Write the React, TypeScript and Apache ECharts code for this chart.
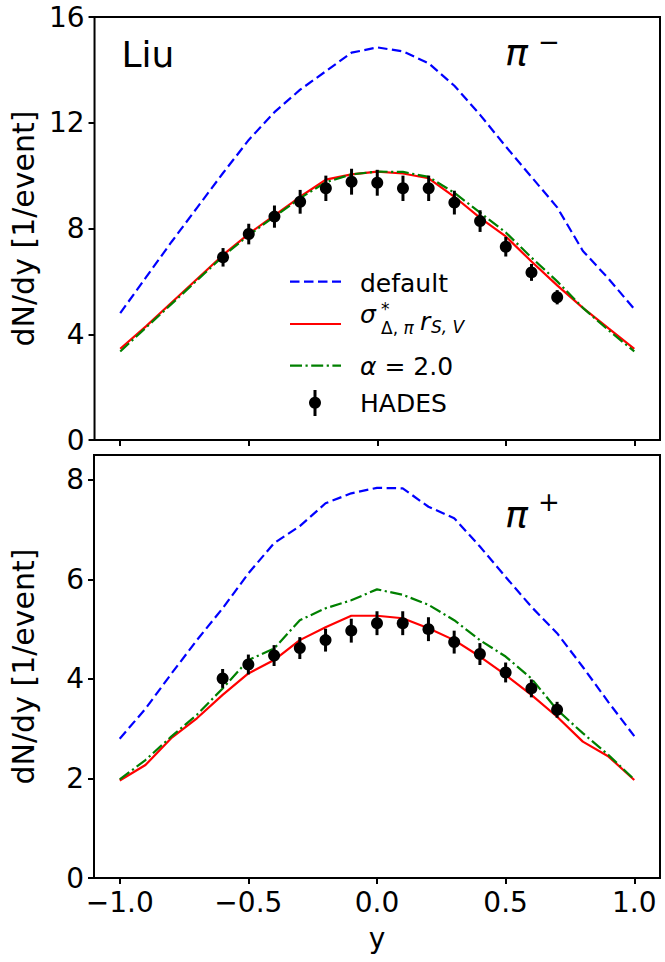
import React, { useEffect, useRef } from "react";
import * as echarts from "echarts";

const FONT = "DejaVu Sans";

// rapidity grid of the model curves
const rapidity = [-1.0, -0.9, -0.8, -0.7, -0.6, -0.5, -0.4, -0.3, -0.2, -0.1, 0.0, 0.1, 0.2, 0.3, 0.4, 0.5, 0.6, 0.7, 0.8, 0.9, 1.0];

// pi- (top panel)
const piMinusDefault = [4.8, 6.15, 7.5, 8.8, 10.1, 11.35, 12.4, 13.25, 13.95, 14.65, 14.85, 14.7, 14.25, 13.4, 12.3, 11.1, 9.95, 8.8, 7.15, 6.1, 4.95];
const piMinusSigma = [3.45, 4.3, 5.2, 6.1, 7.0, 7.8, 8.5, 9.2, 9.85, 10.05, 10.15, 10.08, 9.9, 9.2, 8.4, 7.7, 6.75, 5.85, 5.0, 4.22, 3.45];
const piMinusAlpha = [3.35, 4.25, 5.15, 6.05, 6.95, 7.75, 8.45, 9.15, 9.75, 10.05, 10.15, 10.14, 9.95, 9.35, 8.6, 7.85, 6.9, 6.0, 5.0, 4.15, 3.35];

// pi+ (bottom panel)
const piPlusDefault = [2.8, 3.4, 4.1, 4.78, 5.42, 6.12, 6.73, 7.07, 7.53, 7.73, 7.84, 7.83, 7.46, 7.23, 6.66, 6.05, 5.45, 4.92, 4.24, 3.53, 2.85];
const piPlusSigma = [1.96, 2.27, 2.81, 3.21, 3.68, 4.11, 4.38, 4.78, 5.04, 5.27, 5.27, 5.22, 5.02, 4.78, 4.45, 4.08, 3.68, 3.24, 2.74, 2.44, 1.97];
const piPlusAlpha = [1.98, 2.37, 2.84, 3.28, 3.81, 4.38, 4.61, 5.18, 5.42, 5.58, 5.8, 5.69, 5.49, 5.18, 4.78, 4.45, 4.01, 3.38, 2.91, 2.47, 1.98];

// HADES data
const hadesRapidity = [-0.6, -0.5, -0.4, -0.3, -0.2, -0.1, 0.0, 0.1, 0.2, 0.3, 0.4, 0.5, 0.6, 0.7];
const hadesPiMinus = [6.91, 7.79, 8.45, 9.01, 9.52, 9.77, 9.73, 9.52, 9.52, 8.98, 8.28, 7.31, 6.34, 5.4];
const hadesPiMinusErr = [0.35, 0.39, 0.42, 0.45, 0.48, 0.49, 0.49, 0.48, 0.48, 0.45, 0.41, 0.37, 0.32, 0.27];
const hadesPiPlus = [4.01, 4.29, 4.47, 4.62, 4.78, 4.97, 5.12, 5.12, 5.0, 4.74, 4.5, 4.13, 3.81, 3.38];
const hadesPiPlusErr = [0.19, 0.2, 0.21, 0.22, 0.23, 0.24, 0.24, 0.24, 0.24, 0.23, 0.22, 0.2, 0.18, 0.16];

// ticks
const xTicks = [-1.0, -0.5, 0.0, 0.5, 1.0];
const topYTicks = [0, 4, 8, 12, 16];
const bottomYTicks = [0, 2, 4, 6, 8];

const BLUE = "#0000ff";
const RED = "#ff0000";
const GREEN = "#008000";
const DASH = [9.5, 4.5];
const DASHDOT = [12, 3.5, 2.2, 3.5];
const LW = 2.2;

const pairs = (xs: number[], ys: number[]) => xs.map((x, i) => [x, ys[i]]);
const triples = (xs: number[], ys: number[], es: number[]) => xs.map((x, i) => [x, ys[i], es[i]]);

const fmtX = (v: number) => (v < 0 ? "\u2212" : "") + Math.abs(v).toFixed(1);

export default function App() {
  const ref = useRef<HTMLDivElement>(null);
  useEffect(() => {
    if (!ref.current) return;
    const chart = echarts.init(ref.current, undefined, { renderer: "svg" });

    const lineSeries = (data: number[], color: string, type: any, idx: number, name: string) => ({
      type: "line",
      name,
      xAxisIndex: idx,
      yAxisIndex: idx,
      data: pairs(rapidity, data),
      symbol: "none",
      smooth: false,
      lineStyle: { color, width: LW, type },
      z: 2,
    });

    const errSeries = (ys: number[], es: number[], idx: number) => ({
      type: "custom",
      coordinateSystem: "cartesian2d",
      xAxisIndex: idx,
      yAxisIndex: idx,
      data: triples(hadesRapidity, ys, es),
      encode: { x: 0, y: 1 },
      z: 3,
      renderItem: (params: any, api: any) => {
        const x = api.value(0);
        const y = api.value(1);
        const e = api.value(2);
        const p1 = api.coord([x, y - e]);
        const p2 = api.coord([x, y + e]);
        return {
          type: "line",
          shape: { x1: p1[0], y1: p1[1], x2: p2[0], y2: p2[1] },
          style: { stroke: "#000", lineWidth: 3 },
        };
      },
    });

    const pointSeries = (ys: number[], idx: number) => ({
      type: "scatter",
      xAxisIndex: idx,
      yAxisIndex: idx,
      data: pairs(hadesRapidity, ys),
      symbol: "circle",
      symbolSize: 12,
      itemStyle: { color: "#000", opacity: 1 },
      z: 4,
    });

    const xAxisBase = (idx: number, showLabels: boolean) => ({
      type: "value",
      gridIndex: idx,
      min: -1.1,
      max: 1.1,
      splitLine: { show: false },
      axisLine: { show: false, onZero: false },
      axisTick: { show: true, inside: false, length: 6, lineStyle: { color: "#000", width: 2 }, customValues: xTicks },
      axisLabel: {
        show: showLabels,
        customValues: xTicks,
        formatter: fmtX,
        fontFamily: FONT,
        fontSize: 28,
        color: "#000",
        margin: 10,
      },
      name: showLabels ? "y" : "",
      nameLocation: "middle",
      nameGap: 46,
      nameTextStyle: { fontFamily: FONT, fontSize: 28, color: "#000" },
    });

    const yAxisBase = (idx: number, max: number, ticks: number[]) => ({
      type: "value",
      gridIndex: idx,
      min: 0,
      max,
      splitLine: { show: false },
      axisLine: { show: false, onZero: false },
      axisTick: { show: true, inside: false, length: 6, lineStyle: { color: "#000", width: 2 }, customValues: ticks },
      axisLabel: {
        customValues: ticks,
        formatter: (v: number) => String(v),
        fontFamily: FONT,
        fontSize: 28,
        color: "#000",
        margin: 10,
      },
      name: "dN/dy [1/event]",
      nameLocation: "middle",
      nameRotate: 90,
      nameGap: 56,
      nameTextStyle: { fontFamily: FONT, fontSize: 30, color: "#000" },
    });

    const txt = (text: string, x: number, y: number, size: number, italic = false, rich?: any) => ({
      type: "text",
      x,
      y,
      z: 100,
      style: {
        text,
        fontFamily: FONT,
        fontSize: size,
        fontStyle: italic ? "italic" : "normal",
        fill: "#000",
        align: "left",
        verticalAlign: "middle",
        rich,
      },
    });

    const option: any = {
      animation: false,
      backgroundColor: "#fff",
      grid: [
        { left: 92, top: 17, width: 568, height: 423, show: true, borderColor: "#000", borderWidth: 2, backgroundColor: "transparent" },
        { left: 92, top: 455, width: 568, height: 423, show: true, borderColor: "#000", borderWidth: 2, backgroundColor: "transparent" },
      ],
      xAxis: [xAxisBase(0, false), xAxisBase(1, true)],
      yAxis: [yAxisBase(0, 16, topYTicks), yAxisBase(1, 8.5, bottomYTicks)],
      series: [
        lineSeries(piMinusDefault, BLUE, DASH, 0, "default"),
        lineSeries(piMinusSigma, RED, "solid", 0, "sigma"),
        lineSeries(piMinusAlpha, GREEN, DASHDOT, 0, "alpha"),
        errSeries(hadesPiMinus, hadesPiMinusErr, 0),
        pointSeries(hadesPiMinus, 0),
        lineSeries(piPlusDefault, BLUE, DASH, 1, "default"),
        lineSeries(piPlusSigma, RED, "solid", 1, "sigma"),
        lineSeries(piPlusAlpha, GREEN, DASHDOT, 1, "alpha"),
        errSeries(hadesPiPlus, hadesPiPlusErr, 1),
        pointSeries(hadesPiPlus, 1),
      ],
      graphic: [
        txt("Liu", 121.5, 54, 36),
        txt("\u03c0", 505, 52, 38, true),
        txt("\u2212", 538, 42, 26),
        txt("\u03c0", 505, 514, 38, true),
        txt("+", 538, 502, 26),
        // legend
        { type: "line", z: 100, shape: { x1: 290, y1: 281.7, x2: 341, y2: 281.7 }, style: { stroke: BLUE, lineWidth: LW, lineDash: DASH } },
        { type: "line", z: 100, shape: { x1: 290, y1: 324, x2: 341, y2: 324 }, style: { stroke: RED, lineWidth: LW } },
        { type: "line", z: 100, shape: { x1: 290, y1: 365.7, x2: 341, y2: 365.7 }, style: { stroke: GREEN, lineWidth: LW, lineDash: DASHDOT } },
        { type: "line", z: 100, shape: { x1: 315, y1: 390, x2: 315, y2: 416 }, style: { stroke: "#000", lineWidth: 3 } },
        { type: "circle", z: 100, shape: { cx: 315, cy: 402.7, r: 6 }, style: { fill: "#000" } },
        txt("default", 360, 283, 25),
        txt("\u03c3", 360, 314, 25, true),
        txt("*", 381, 309, 17),
        txt("{u|\u0394,}{i| \u03c0}", 381, 328, 17, false, {
          u: { fontFamily: FONT, fontSize: 17, fontStyle: "normal" },
          i: { fontFamily: FONT, fontSize: 17, fontStyle: "italic" },
        }),
        txt("r", 420, 321, 25, true),
        txt("S, V", 431, 327, 17, true),
        txt("{i|\u03b1} = 2.0", 360, 366, 25, false, {
          i: { fontFamily: FONT, fontSize: 25, fontStyle: "italic" },
        }),
        txt("HADES", 360, 403, 25),
      ],
    };
    chart.setOption(option);
    return () => chart.dispose();
  }, []);
  return <div ref={ref} style={{ position: "absolute", left: 0, top: 0, width: 665, height: 962 }} />;
}
